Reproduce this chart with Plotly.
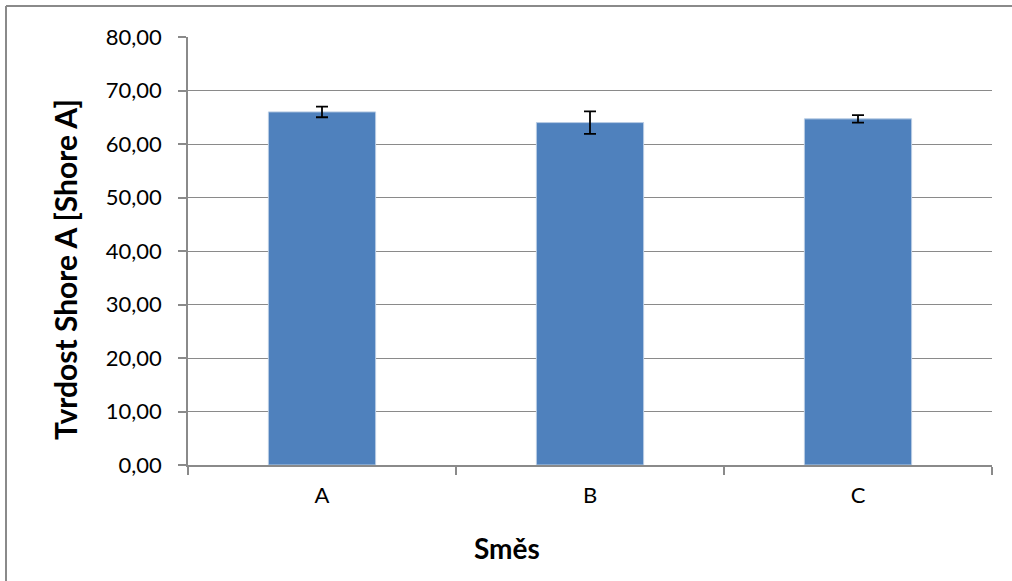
import plotly.graph_objects as go

categories = ["A", "B", "C"]
values = [66.0, 64.0, 64.7]
errors = [1.0, 2.1, 0.7]
y_ticks = [0, 10, 20, 30, 40, 50, 60, 70, 80]
y_tick_labels = ["0,00", "10,00", "20,00", "30,00", "40,00", "50,00", "60,00", "70,00", "80,00"]
x_title = "Směs"
y_title = "Tvrdost Shore A [Shore A]"

FONT = "Lato"
GRAY = "#8a8a8a"

W, H = 1012, 581
L, R, T, B = 188, 20, 37, 116
PW, PH = W - L - R, H - T - B


def px_x(x):
    return (x - L) / PW


def px_y(y):
    return (H - B - y) / PH


fig = go.Figure()
fig.add_trace(go.Bar(
    x=categories, y=values,
    width=0.4,
    marker=dict(color="#4F81BD", line=dict(color="#b8cce4", width=1)),
    error_y=dict(type="data", array=errors, visible=True, color="black", thickness=1.8, width=6),
))

fig.update_layout(
    width=W, height=H,
    margin=dict(l=L, r=R, t=T, b=B),
    paper_bgcolor="white", plot_bgcolor="white",
    showlegend=False,
    font=dict(family=FONT, size=22, color="black"),
    xaxis=dict(
        showline=True, linecolor=GRAY, linewidth=1.5,
        ticks="outside", tickson="boundaries", ticklen=8, tickcolor=GRAY, tickwidth=1.5,
        tickfont=dict(family=FONT, size=22), ticklabelstandoff=10,
    ),
    yaxis=dict(
        range=[0, 80], tickvals=y_ticks, ticktext=y_tick_labels,
        showline=True, linecolor=GRAY, linewidth=1.5,
        ticks="outside", ticklen=8, tickcolor=GRAY, tickwidth=1.5,
        showgrid=True, gridcolor=GRAY, gridwidth=1,
        zeroline=False,
        tickfont=dict(family=FONT, size=22), ticklabelstandoff=12,
    ),
)

fig.add_annotation(text="<b>" + y_title + "</b>", xref="paper", yref="paper",
                   x=px_x(65), y=px_y(270), showarrow=False, textangle=-90,
                   xanchor="center", yanchor="middle", font=dict(family=FONT, size=30))
fig.add_annotation(text="<b>" + x_title + "</b>", xref="paper", yref="paper",
                   x=px_x(507), y=px_y(548), showarrow=False,
                   xanchor="center", yanchor="middle", font=dict(family=FONT, size=28))

# chart-area frame: only the top and left edges are visible in the reference
fig.add_shape(type="line", xref="paper", yref="paper",
              x0=px_x(6), x1=px_x(W + 20), y0=px_y(6), y1=px_y(6),
              line=dict(color=GRAY, width=2), layer="below")
fig.add_shape(type="line", xref="paper", yref="paper",
              x0=px_x(6), x1=px_x(6), y0=px_y(6), y1=px_y(H + 20),
              line=dict(color=GRAY, width=2), layer="below")

fig.write_html(
    "out.html", config={"displayModeBar": False},
    post_script=("document.body.style.margin='0';"
                 "document.body.style.overflow='hidden';"
                 "document.documentElement.style.overflow='hidden';"),
)
